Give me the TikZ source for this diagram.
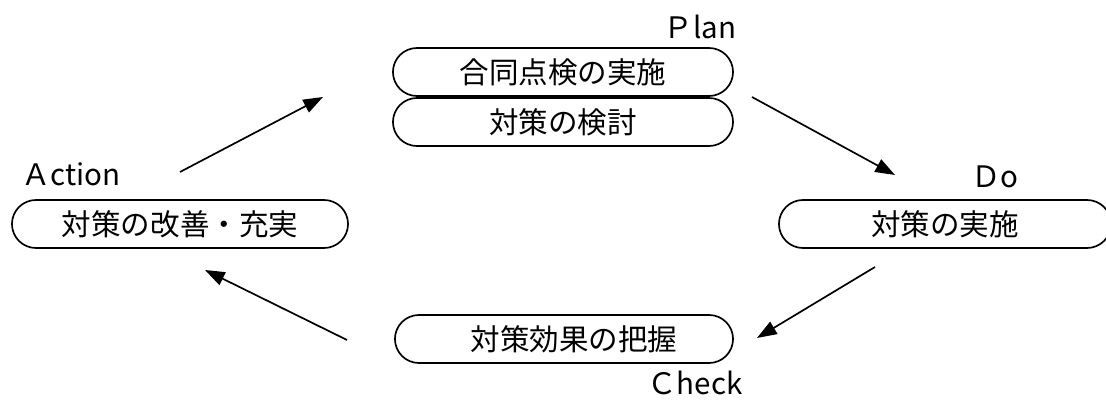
\documentclass[tikz,border=0pt]{standalone}
\usepackage{fontspec}
\setmainfont{Noto Sans CJK JP}
\usetikzlibrary{shapes.misc,arrows.meta}
\begin{document}
\begin{tikzpicture}[x=0.025cm,y=-0.025cm,
   pdca/.style={draw,line width=1.2pt,rounded rectangle,minimum height=1.2cm,
     inner sep=0pt,font=\fontsize{21}{25}\selectfont},
   phase/.style={font=\fontsize{21}{25}\selectfont},
   cyc/.style={line width=1.2pt,-{Triangle[length=14pt,width=10pt]}}]
   \useasboundingbox (0,0) rectangle (1106,405);
   \node[pdca,minimum width=8.5cm] (jisshi) at (563,72) {合同点検の実施\hspace{0.8cm}};
   \node[pdca,minimum width=8.5cm] (kento) at (563,122) {対策の検討\hspace{0.8cm}};
   \node[pdca,minimum width=8.4cm] (kaizen) at (180,224) {対策の改善・充実};
   \node[pdca,minimum width=8.3cm] (taisaku) at (945,224) {対策の実施\hspace{0.8cm}};
   \node[pdca,minimum width=8.45cm] (haaku) at (564,339) {\hspace{0.5cm}対策効果の把握};
   \node[phase] (plan) at (700,27) {Ｐlan};
   \node[phase] (do) at (995,177) {Ｄo};
   \node[phase] (check) at (695,383) {Ｃheck};
   \node[phase] (action) at (71,174) {Ａction};
   \coordinate (a1) at (180,172); \coordinate (a2) at (323,97);
   \coordinate (p1) at (752,97); \coordinate (p2) at (895,175);
   \coordinate (d1) at (875,267); \coordinate (d2) at (757,338);
   \coordinate (c1) at (347,340); \coordinate (c2) at (205,270);
   \draw[cyc] (a1) -- (a2);
   \draw[cyc] (p1) -- (p2);
   \draw[cyc] (d1) -- (d2);
   \draw[cyc] (c1) -- (c2);
\end{tikzpicture}
\end{document}
